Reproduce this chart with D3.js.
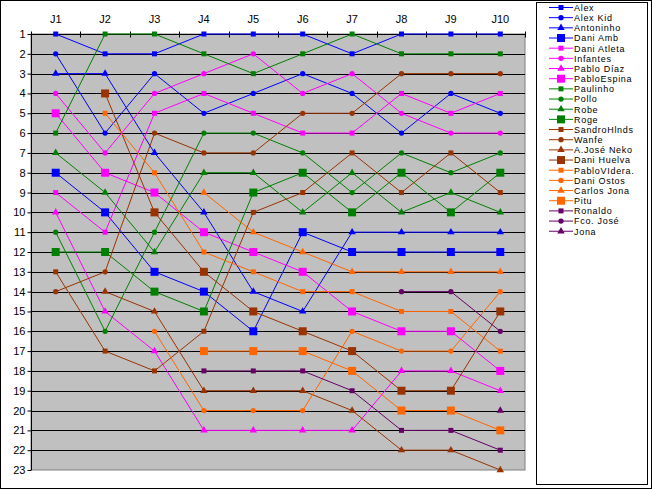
<!DOCTYPE html>
<html>
<head>
<meta charset="utf-8">
<script src="https://cdn.jsdelivr.net/npm/d3@7/dist/d3.min.js"></script>
<style>
  html, body { margin: 0; padding: 0; background: #fff; }
  svg text { font-family: "Liberation Sans", Arial, sans-serif; }
</style>
</head>
<body>
<svg id="chart" width="652" height="489"></svg>
<script>
const categories = ["J1","J2","J3","J4","J5","J6","J7","J8","J9","J10"];
const yTicks = d3.range(1, 24);
const seriesNames = ["Alex","Alex Kid","Antoninho","Dani Amb","Dani Atleta","Infantes","Pablo Díaz","PabloEspina","Paulinho","Pollo","Robe","Roge","SandroHlnds","Wanfe","A.José Neko","Dani Huelva","PabloVIdera.","Dani Ostos","Carlos Jona","Pitu","Ronaldo","Fco. José","Jona"];
const _ = null;
const ranks = [
  [1,2,2,1,1,1,2,1,1,1],
  [2,6,3,5,4,3,4,6,4,5],
  [3,3,7,10,14,15,11,11,11,11],
  [8,10,13,14,16,11,12,12,12,12],
  [9,11,5,4,5,6,6,4,5,4],
  [4,7,4,3,2,4,3,5,6,6],
  [10,15,17,21,21,21,21,18,18,19],
  [5,8,9,11,12,13,15,16,16,18],
  [6,1,1,2,3,2,1,2,2,2],
  [11,16,11,6,6,7,9,7,8,7],
  [7,9,12,8,8,10,8,10,9,10],
  [12,12,14,15,9,8,10,8,10,8],
  [13,17,18,16,10,9,7,9,7,9],
  [14,13,6,7,7,5,5,3,3,3],
  [_,14,15,19,19,19,20,22,22,23],
  [_,4,10,13,15,16,17,19,19,15],
  [_,5,8,12,13,14,14,15,15,17],
  [_,_,16,20,20,20,16,17,17,14],
  [_,_,_,9,11,12,13,13,13,13],
  [_,_,_,17,17,17,18,20,20,21],
  [_,_,_,18,18,18,19,21,21,22],
  [_,_,_,_,_,_,_,14,14,16],
  [_,_,_,_,_,_,_,_,_,20]
];
// styles (not data)
const palette = ["#0000FF","#FF00FF","#008000","#993300","#FF6600","#660066"];
const markerCycle = ["sq","ci","tr","bsq"];

const svg = d3.select("#chart");
const W = 652, H = 489;
const plot = {left: 31, right: 525, top: 34, bottom: 470};

svg.append("rect").attr("x",0.5).attr("y",0.5).attr("width",W-1).attr("height",H-1)
  .attr("fill","#fff").attr("stroke","#000");

const x = d3.scaleBand().domain(categories).range([plot.left, plot.right]).padding(0);
const y = d3.scaleLinear().domain([1,23]).range([plot.top, plot.bottom]);
const cx = c => x(c) + x.bandwidth()/2;

svg.append("rect").attr("x",plot.left).attr("y",plot.top)
  .attr("width",plot.right-plot.left).attr("height",plot.bottom-plot.top)
  .attr("fill","#C0C0C0").attr("stroke","#808080");

// gridlines
svg.append("g").selectAll("line").data(yTicks.filter(v => v > 1 && v < 23)).join("line")
  .attr("x1",plot.left).attr("x2",plot.right)
  .attr("y1",d => Math.round(y(d))+0.5).attr("y2",d => Math.round(y(d))+0.5)
  .attr("stroke","#000").attr("stroke-width",1);

// y axis
const yAxis = d3.axisLeft(y).tickValues(yTicks).tickSize(4).tickFormat(d3.format("d"));
const gy = svg.append("g").attr("transform",`translate(${plot.left+0.5},0)`).call(yAxis);
gy.select(".domain").attr("d",`M0,${plot.top}V${plot.bottom}`).attr("stroke","#000");
gy.selectAll(".tick line").attr("stroke","#000");
gy.selectAll(".tick text").attr("font-size","11px").attr("fill","#000").attr("x",-6)
  .style("font-family","'Liberation Sans', Arial, sans-serif");

// x axis at top
const gx = svg.append("g").attr("transform",`translate(0,${plot.top+0.5})`);
gx.append("line").attr("x1",plot.left).attr("x2",plot.right).attr("y1",0).attr("y2",0).attr("stroke","#000");
const boundaries = categories.map(c => x(c)).concat([plot.right]);
gx.selectAll("line.tk").data(boundaries).join("line").attr("class","tk")
  .attr("x1",d => Math.round(d)+0.5).attr("x2",d => Math.round(d)+0.5)
  .attr("y1",-3).attr("y2",3).attr("stroke","#000");
gx.selectAll("text").data(categories).join("text")
  .attr("x",d => cx(d)).attr("y",-12).attr("text-anchor","middle")
  .attr("font-size","11px").attr("fill","#000").text(d => d);

function markerPath(type){
  if (type === "sq") return d3.symbol(d3.symbolSquare, 25)();
  if (type === "bsq") return d3.symbol(d3.symbolSquare, 64)();
  if (type === "ci") return d3.symbol(d3.symbolCircle, 22)();
  return d3.symbol(d3.symbolTriangle, 24)();
}

const line = d3.line().defined(d => d.v !== null).x(d => cx(d.c)).y(d => y(d.v));

const series = seriesNames.map((name, i) => ({
  name,
  color: palette[Math.floor(i/4)],
  marker: markerCycle[i % 4],
  points: categories.map((c, j) => ({c, v: ranks[i][j]}))
}));

const gs = svg.append("g").selectAll("g").data(series).join("g");
gs.append("path").attr("d", d => line(d.points)).attr("fill","none")
  .attr("stroke", d => d.color).attr("stroke-width",1);
gs.each(function(s){
  d3.select(this).selectAll("path.m").data(s.points.filter(p => p.v !== null)).join("path")
    .attr("class","m").attr("d", markerPath(s.marker))
    .attr("transform", p => `translate(${cx(p.c)},${y(p.v)})`)
    .attr("fill", s.color).attr("stroke","none");
});

// legend
svg.append("rect").attr("x",536.5).attr("y",2.5).attr("width",111).attr("height",482)
  .attr("fill","#fff").attr("stroke","#000");
const lg = svg.append("g").selectAll("g").data(series).join("g")
  .attr("transform",(d,i) => `translate(0,${7.5 + i*10.17})`);
lg.append("line").attr("x1",549).attr("x2",573).attr("y1",0).attr("y2",0)
  .attr("stroke",d => d.color).attr("stroke-width",1);
lg.append("path").attr("d",d => markerPath(d.marker)).attr("transform","translate(561,0)")
  .attr("fill",d => d.color);
lg.append("text").attr("x",574).attr("y",3.4).attr("font-size","9px")
  .attr("letter-spacing","0.7px").attr("fill","#000")
  .text(d => d.name);
</script>
</body>
</html>
